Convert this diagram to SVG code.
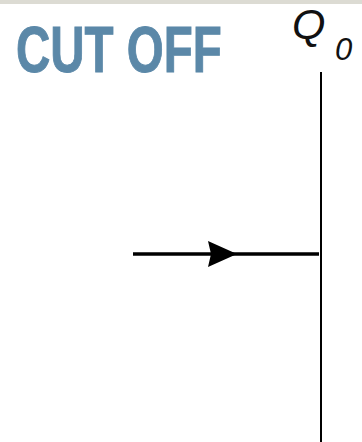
<svg xmlns="http://www.w3.org/2000/svg" width="362" height="442" viewBox="0 0 362 442">
<style>
.title{font-family:"Liberation Sans",Arial,sans-serif;font-weight:bold;font-size:65px;fill:#5b88a8}
.lbl{font-family:"Liberation Sans",Arial,sans-serif;font-style:italic;fill:#111}
.wire{stroke:#000;fill:none}
</style>
<rect width="362" height="442" fill="#fff"/>
<rect width="362" height="4" fill="#dcdbd3"/>
<g id="title"><text class="title" x="0" y="0" transform="translate(16,72) scale(0.731,1)" stroke="#5b88a8" stroke-width="1">CUT OFF</text></g>
<g id="Q0"><text class="lbl" x="292" y="39" font-size="43">Q<tspan x="335" y="60" font-size="31">0</tspan></text></g>
<g id="connectors">
<line class="wire" x1="321" y1="72" x2="321" y2="442" stroke-width="2"/>
<line class="wire" x1="133" y1="254" x2="319" y2="254" stroke-width="3.5"/>
<path d="M208,241 L237,254 L208,267 L211,254 Z" fill="#000"/>
</g>
</svg>
